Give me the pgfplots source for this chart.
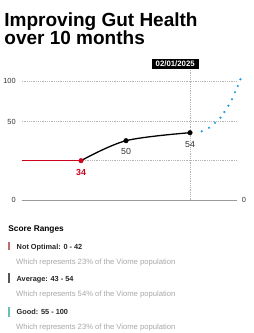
\documentclass[border=0pt]{standalone}
\usepackage{pgfplots}
\pgfplotsset{compat=1.18}
\usepackage{fontspec}
\setmainfont{Liberation Sans}
\definecolor{redline}{HTML}{D0021B}
\definecolor{bluedot}{HTML}{1E9EE0}
\definecolor{gridgray}{HTML}{B5B5B5}
\definecolor{basegray}{HTML}{9A9A9A}
\definecolor{ticktext}{HTML}{333333}
\definecolor{legred}{HTML}{C46A6A}
\definecolor{leggray}{HTML}{555555}
\definecolor{legteal}{HTML}{6ABFB0}
\definecolor{subgray}{HTML}{A8A8A8}
\begin{document}
\begin{tikzpicture}[x=1pt,y=1pt]
\fill[white] (0,0) rectangle (252,333);
% title
\node[anchor=base west, inner sep=0pt] at (2.5,306) {\fontsize{19}{19}\selectfont\bfseries Improving Gut Health};
\node[anchor=base west, inner sep=0pt] at (2.5,288) {\fontsize{19}{19}\selectfont\bfseries over 10 months};
\begin{axis}[
  at={(20pt,133pt)}, anchor=south west,
  scale only axis, width=216pt, height=119pt,
  xmin=20, xmax=236, ymin=0, ymax=119,
  clip=false,
  axis line style={draw=none},
  major tick length=0pt,
  xtick=\empty,
  ytick={0,39.3,78.3,119},
  yticklabels={0,,50,100},
  yticklabel style={font=\fontsize{7.4}{8}\selectfont, text=ticktext, xshift=-2.5pt},
  ymajorgrids,
  grid style={gridgray, line width=0.5pt, dash pattern=on 0.7pt off 1.1pt},
]
% baseline
\draw[basegray, line width=0.6pt] (axis cs:20,0) -- (axis cs:235,0);
% vertical date line
\draw[gridgray, line width=0.5pt, dash pattern=on 0.7pt off 1.1pt] (axis cs:189,0) -- (axis cs:189,131);
\addplot[redline, line width=1.3pt] coordinates {(20,39.3) (79.3,39.3)};
\addplot[black, line width=1.3pt, smooth, tension=0.55] coordinates {(79.3,39.3) (124.3,59.3) (188.3,67.3)};
\addplot[only marks, mark=*, mark size=2.3pt, redline] coordinates {(79.3,39.3)};
\addplot[only marks, mark=*, mark size=2.3pt, black] coordinates {(124.3,59.3) (188.3,67.3)};
\addplot[only marks, mark=*, mark size=0.9pt, bluedot] coordinates {
 (200,68.7) (207.3,72.3) (213.3,77.3) (218.7,82.3) (222.7,88)
 (226.7,94.3) (230.3,100.7) (233.3,107.7) (236,114) (238.7,120.7)};
\node[text=redline, font=\fontsize{8.8}{9}\selectfont\bfseries] at (axis cs:79.3,28) {34};
\node[text=ticktext, font=\fontsize{8.8}{9}\selectfont] at (axis cs:124.3,48.3) {50};
\node[text=ticktext, font=\fontsize{8.8}{9}\selectfont] at (axis cs:188.3,55) {54};
\node[anchor=west, text=ticktext, font=\fontsize{7.4}{8}\selectfont, inner sep=0pt] at (axis cs:240,0) {0};
\end{axis}
% date box
\node[fill=black, text=white, minimum width=47pt, minimum height=10.5pt, inner sep=0pt,
  font=\fontsize{7.8}{8}\selectfont\bfseries] at (173.5,269) {02/01/2025};
% legend
\node[anchor=base west, inner sep=0pt, font=\fontsize{8.3}{9}\selectfont\bfseries] at (6.5,102) {Score Ranges};
\fill[legred] (6.6,83) rectangle (7.9,91);
\node[anchor=base west, inner sep=0pt, font=\fontsize{7.35}{8}\selectfont\bfseries, text=black!85] at (14.8,84) {Not Optimal: 0 - 42};
\node[anchor=base west, inner sep=0pt, font=\fontsize{7.65}{8}\selectfont, text=subgray] at (14.2,68.5) {Which represents 23\% of the Viome population};
\fill[leggray] (6.6,50) rectangle (7.9,60);
\node[anchor=base west, inner sep=0pt, font=\fontsize{7.35}{8}\selectfont\bfseries, text=black!85] at (14.8,51.5) {Average: 43 - 54};
\node[anchor=base west, inner sep=0pt, font=\fontsize{7.65}{8}\selectfont, text=subgray] at (14.2,36) {Which represents 54\% of the Viome population};
\fill[legteal] (6.6,16) rectangle (7.9,26);
\node[anchor=base west, inner sep=0pt, font=\fontsize{7.35}{8}\selectfont\bfseries, text=black!85] at (14.8,18.5) {Good: 55 - 100};
\node[anchor=base west, inner sep=0pt, font=\fontsize{7.65}{8}\selectfont, text=subgray] at (14.2,3.5) {Which represents 23\% of the Viome population};
\end{tikzpicture}
\end{document}
